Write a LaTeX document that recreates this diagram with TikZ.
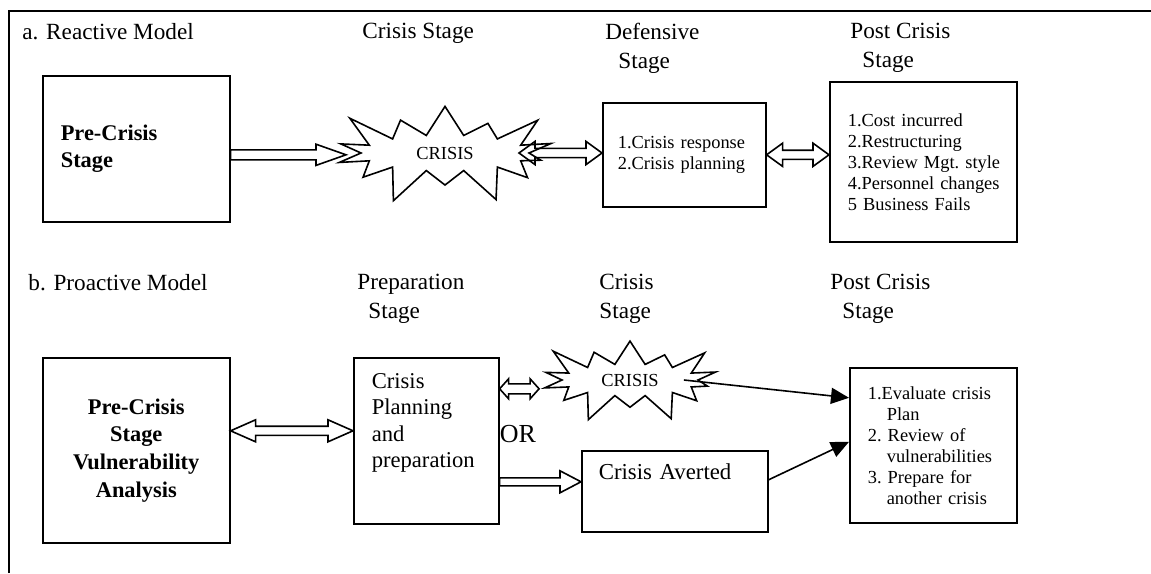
\documentclass[tikz,border=0pt]{standalone}
\usepackage{fontspec}
\setmainfont{Liberation Serif}
\usetikzlibrary{calc,shapes.symbols,arrows.meta}
\tikzset{box/.style = {draw, line width=0.8pt, inner ysep=0pt, anchor=north west, align=left},
    ttl/.style = {font=\fontsize{11.6}{14.5}\selectfont, align=left, anchor=north west, inner sep=0pt},
    lst/.style = {font=\fontsize{9.2}{10.5}\selectfont},
    bld/.style = {font=\fontsize{11.2}{13.8}\selectfont\bfseries},
    burst/.style = {draw, line width=0.8pt, starburst, starburst points=14, inner sep=0pt,
        font=\fontsize{9.2}{11}\selectfont},
    fat/.style args = {#1/#2/#3}{line width=0.8pt, to path={let \p1=(\tikztostart), \p2=(\tikztotarget) in
        (\x1,\y1+#3) -- (\x2-#1,\y1+#3) -- (\x2-#1,\y1+#2) -- (\x2,\y1) -- (\x2-#1,\y1-#2)
        -- (\x2-#1,\y1-#3) -- (\x1,\y1-#3) -- cycle}},
    fatb/.style args = {#1/#2/#3}{line width=0.8pt, to path={let \p1=(\tikztostart), \p2=(\tikztotarget) in
        (\x1,\y1) -- (\x1+#1,\y1+#2) -- (\x1+#1,\y1+#3) -- (\x2-#1,\y1+#3) -- (\x2-#1,\y1+#2) -- (\x2,\y1)
        -- (\x2-#1,\y1-#2) -- (\x2-#1,\y1-#3) -- (\x1+#1,\y1-#3) -- (\x1+#1,\y1-#2) -- cycle}},
    tip/.style = {line width=0.8pt, -{Triangle[length=9pt,width=8pt]}}}

\begin{document}
\begin{tikzpicture}[x=0.5pt, y=-0.5pt]
    \useasboundingbox (0,0) rectangle (1151,573);
    \draw[line width=1pt] (9,573) -- (9,11) -- (1151,11);

    % stage titles
    \foreach \n/\x/\y/\t in {ta/22/23/{a. Reactive Model}, tb/362/23/{Crisis Stage},
        tc/605/23/{Defensive\\\hspace*{6.5pt}Stage}, td/850/23/{Post Crisis\\\hspace*{6pt}Stage},
        te/28/274/{b. Proactive Model}, tf/357/274/{Preparation\\\hspace*{5.5pt}Stage},
        tg/599/274/{Crisis\\Stage}, th/830/274/{Post Crisis\\\hspace*{6pt}Stage}}
        \node[ttl] (\n) at (\x,\y) {\t};

    % reactive model
    \node[box, bld, minimum width=93.5pt, minimum height=73pt, text width=75.5pt, inner xsep=9pt] (pre) at (42,75) {Pre-Crisis\\Stage};
    \node[burst, minimum width=124pt, minimum height=58pt, starburst point height=20pt] (cr1) at (445,153) {CRISIS};
    \node[box, lst, minimum width=81.5pt, minimum height=52pt, text width=66.5pt, inner xsep=7.5pt] (def) at (602,102) {1.Crisis~response\\2.Crisis~planning};
    \node[box, lst, minimum width=93.5pt, minimum height=80pt, text width=75.5pt, inner xsep=9pt] (post) at (829,81)
        {1.Cost~incurred\\2.Restructuring\\3.Review~Mgt.~style\\4.Personnel~changes\\5~Business~Fails};

    \draw[fat=15pt/5.3pt/2.5pt] ([yshift=-3pt]pre.east) to ([xshift=-6.5pt]cr1.west);
    \draw[fatb=8pt/5.8pt/2.3pt] ([xshift=-6pt]cr1.east) to (def.west);
    \draw[fatb=8pt/5.8pt/2.3pt] (def.east) to (post.west);

    % proactive model
    \node[box, bld, align=center, minimum width=93.5pt, minimum height=92.5pt, text width=75.5pt, inner xsep=9pt] (pre2) at (42,357)
        {Pre-Crisis\\Stage\\Vulnerability\\Analysis};
    \node[box, font=\fontsize{11.3}{13.3}\selectfont, minimum width=72.5pt, minimum height=83pt, text width=54.5pt, inner xsep=9pt] (prep) at (353,357)
        {Crisis\\Planning\\and\\preparation\\[7pt]\mbox{}};
    \node[burst, minimum width=100pt, minimum height=48pt, starburst point height=16pt] (cr2) at (630,380) {CRISIS};
    \node[font=\fontsize{13}{15}\selectfont, inner sep=0pt] (or) at (518,434) {OR};
    \node[box, font=\fontsize{11.4}{13.4}\selectfont, minimum width=93pt, minimum height=40.5pt, text width=76pt, inner xsep=8.5pt] (av) at (581,450)
        {Crisis~Averted\\[6pt]\mbox{}};
    \node[box, lst, minimum width=83.5pt, minimum height=77.5pt, text width=65.5pt, inner xsep=9pt] (post2) at (849,367)
        {1.Evaluate~crisis\\\hspace*{9.5pt}Plan\\2.~Review~of\\\hspace*{9.5pt}vulnerabilities\\3.~Prepare~for\\\hspace*{9.5pt}another~crisis};

    \draw[fatb=12.5pt/5.5pt/2.3pt] ([yshift=9.75pt]pre2.east) to (prep.west);
    \draw[fatb=4.5pt/5pt/2.5pt] ([yshift=26pt]prep.east) to ([xshift=-10.5pt]cr2.west);
    \draw[fat=10.5pt/5.5pt/2pt] ([yshift=-20.5pt]prep.east) to (av.west);
    \draw[tip] ([xshift=-8pt]cr2.east) -- ([yshift=23.75pt]post2.west);
    \draw[tip] ([yshift=5.75pt]av.east) -- ([yshift=1.75pt]post2.west);
\end{tikzpicture}
\end{document}
